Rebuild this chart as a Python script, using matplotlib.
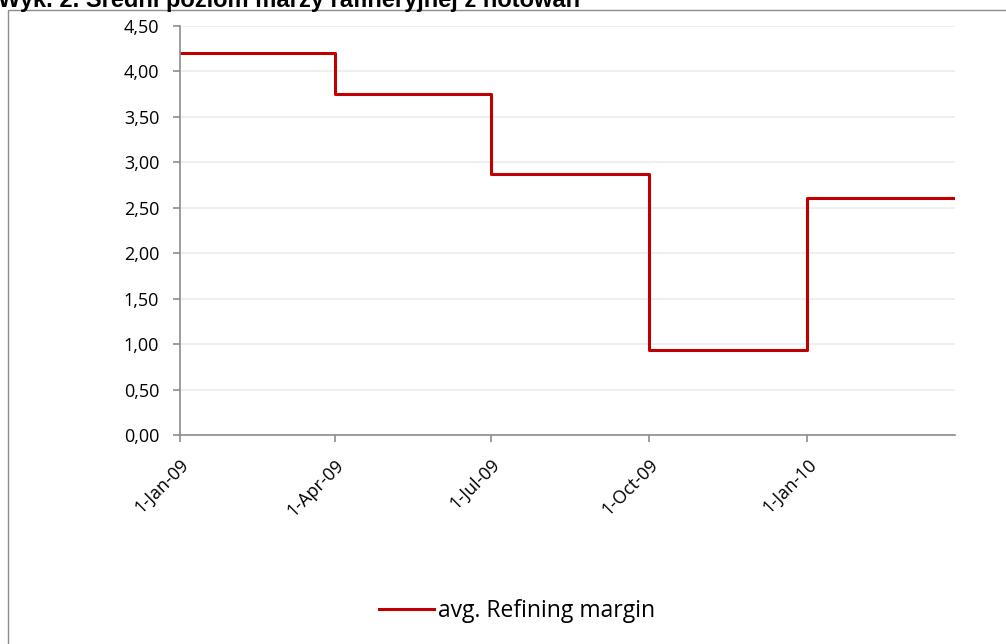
import numpy as np
import pandas as pd
import matplotlib.pyplot as plt
from matplotlib.patches import Rectangle
from matplotlib.ticker import FuncFormatter

# quarterly average refining margin (step series)
dates = ["2009-01-01", "2009-04-01", "2009-07-01", "2009-10-01", "2010-01-01", "2010-03-28"]
margin = [4.20, 3.75, 2.87, 0.93, 2.61, 2.61]
tick_dates = ["2009-01-01", "2009-04-01", "2009-07-01", "2009-10-01", "2010-01-01"]
tick_labels = ["1-Jan-09", "1-Apr-09", "1-Jul-09", "1-Oct-09", "1-Jan-10"]

x = pd.to_datetime(dates)
W, H = 1006, 644

plt.rcParams['font.family'] = ['Open Sans', 'DejaVu Sans']

fig = plt.figure(figsize=(W / 100, H / 100), dpi=100)

# chart frame (partially cropped)
fig.patches.append(Rectangle((8 / W, -0.1), 1.2, 1 - 10 / H + 0.1, transform=fig.transFigure,
                             fill=False, edgecolor="#8c8c8c", linewidth=1.0))

fig.text(-0.002, 1 - 7 / H, "Wyk. 2. Średni poziom marży rafineryjnej z notowań",
         fontsize=17, fontweight="bold", family="Liberation Sans", va="baseline", ha="left")

ax = fig.add_axes([180 / W, 1 - 435 / H, (955 - 180) / W, (435 - 26) / H])
ax.plot(x, margin, drawstyle="steps-post", color="#c00000", linewidth=2.2,
        label="avg. Refining margin")

ax.set_xlim(x[0], x[-1])
ax.set_ylim(0, 4.5)
ax.set_yticks(np.arange(0, 4.51, 0.5))
ax.yaxis.set_major_formatter(FuncFormatter(lambda v, p: f"{v:.2f}".replace(".", ",")))
ax.set_xticks(pd.to_datetime(tick_dates))
ax.set_xticklabels(tick_labels, rotation=45, ha="right", rotation_mode="anchor")

ax.grid(axis="y", color="#ececec", linewidth=1.2)
ax.set_axisbelow(True)
for s in ["top", "right"]:
    ax.spines[s].set_visible(False)
for s in ["left", "bottom"]:
    ax.spines[s].set_color("#8c8c8c")
    ax.spines[s].set_linewidth(1.2)
ax.tick_params(axis="both", colors="#8c8c8c", length=5, width=1.2, labelsize=13,
               labelcolor="black")
ax.tick_params(axis="y", pad=10)
ax.tick_params(axis="x", pad=10)

fig.legend(loc="center", bbox_to_anchor=(0.514, 1 - 611 / H), frameon=False, fontsize=16.5,
           handlelength=2.4, handletextpad=0.2)

fig.savefig("out.png", dpi=100)
